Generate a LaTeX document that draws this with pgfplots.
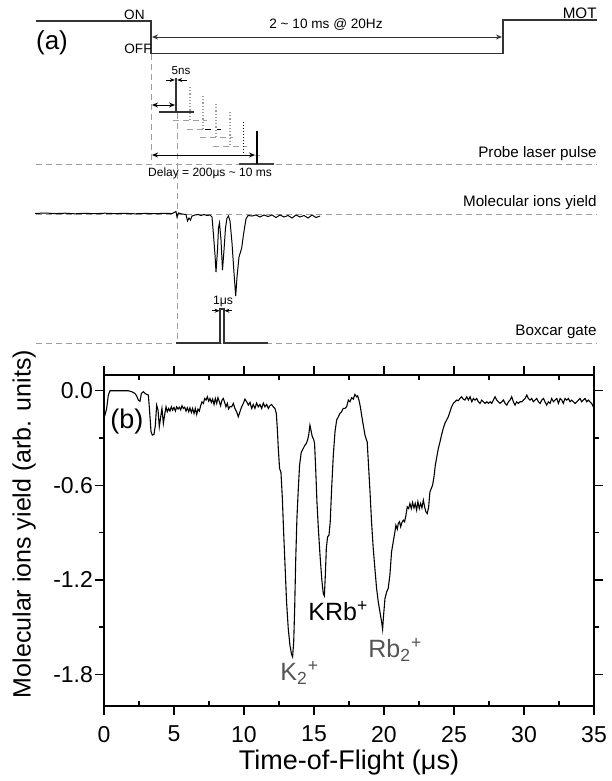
\documentclass[border=0pt]{standalone}
\usepackage{pgfplots}
\pgfplotsset{compat=1.18}
\usepackage{fontspec}
\setmainfont{Liberation Sans}
\usetikzlibrary{arrows.meta}
\definecolor{lg}{gray}{0.62}
\definecolor{dg}{gray}{0.2}
\definecolor{lab}{gray}{0.33}
\begin{document}
\begin{tikzpicture}
\useasboundingbox (0,0) rectangle (305.5pt,-390.5pt);
% ---------------- (a) timing scheme, drawn in pixel units ----------------
\begin{axis}[at={(0pt,0pt)}, anchor=north west, scale only axis,
  width=305.5pt, height=390.5pt, xmin=0, xmax=611, ymin=0, ymax=781,
  y dir=reverse, hide axis, clip=false]
% MOT timing
\addplot[dg, line width=0.6pt] coordinates {(36,21) (151,21) (151,53.5) (503,53.5) (503,20) (597,20)};
\draw[dg, line width=0.5pt, {Stealth[length=3pt,width=2.5pt]}-{Stealth[length=3pt,width=2.5pt]}] (152,37) -- (502,37);
\node[font=\fontsize{6.8pt}{8pt}\selectfont, inner sep=0] at (326,25) {2 \textasciitilde\ 10 ms @ 20Hz};
\node[font=\fontsize{6.8pt}{8pt}\selectfont, inner sep=0, anchor=east] at (145,15) {ON};
\node[font=\fontsize{6.8pt}{8pt}\selectfont, inner sep=0, anchor=east] at (152,49) {OFF};
\node[font=\fontsize{7.6pt}{9pt}\selectfont, inner sep=0, anchor=east] at (597,13) {MOT};
\node[font=\fontsize{13pt}{15pt}\selectfont, inner sep=0] at (52,43) {(a)};
% guide lines
\draw[lg, line width=0.35pt, densely dashed] (36,164.3) -- (597,164.3);
\draw[lg, line width=0.35pt, densely dashed] (36,214) -- (597,214);
\draw[lg, line width=0.35pt, densely dashed] (36,343) -- (597,343);
\draw[lg, line width=0.35pt, densely dashed] (151,54) -- (151,164);
\draw[lg, line width=0.35pt, densely dashed] (177,113) -- (177,343);
% probe pulses
\addplot[dg, line width=0.7pt] coordinates {(159,112) (194,112)};
\addplot[dg, line width=0.7pt] coordinates {(176,112) (176,78)};
\draw[line width=0.4pt, -{Stealth[length=2.5pt,width=2pt]}] (166,80) -- (174.8,80);
\draw[line width=0.4pt, -{Stealth[length=2.5pt,width=2pt]}] (187,80) -- (177.2,80);
\node[font=\fontsize{5.8pt}{7pt}\selectfont, inner sep=0] at (181,71) {5ns};
\draw[line width=0.5pt, {Stealth[length=3pt,width=2.5pt]}-{Stealth[length=3pt,width=2.5pt]}] (152,105) -- (175,105);
\addplot[lg, line width=0.6pt, densely dotted] coordinates {(190,87) (190,120)};
\addplot[lg, line width=0.4pt, densely dashed] coordinates {(173,120) (207,120)};
\addplot[lg, line width=0.6pt, densely dotted] coordinates {(203,96) (203,129)};
\addplot[lg, line width=0.4pt, densely dashed] coordinates {(187,129) (205,129)};
\addplot[black, line width=0.5pt, dashed] coordinates {(205,129) (221,129)};
\addplot[lg, line width=0.6pt, densely dotted] coordinates {(216,104) (216,137)};
\addplot[lg, line width=0.4pt, densely dashed] coordinates {(200,137) (233,137)};
\addplot[lg, line width=0.6pt, densely dotted] coordinates {(230,112) (230,146)};
\addplot[lg, line width=0.4pt, densely dashed] coordinates {(213,146) (247,146)};
\addplot[black, line width=0.5pt, densely dotted] coordinates {(243,122) (243,155)};
\addplot[lg, line width=0.4pt, densely dashed] coordinates {(245,155) (260,155)};
\addplot[black!75, line width=1.2pt] coordinates {(239,164) (274,164)};
\addplot[black, line width=1.2pt] coordinates {(257,131) (257,164)};
\draw[line width=0.5pt, {Stealth[length=3pt,width=2.5pt]}-{Stealth[length=3pt,width=2.5pt]}] (152,155) -- (255,155);
\node[font=\fontsize{6pt}{7pt}\selectfont, inner sep=0] at (210,173) {Delay = 200μs \textasciitilde\ 10 ms};
\node[font=\fontsize{7.6pt}{9pt}\selectfont, inner sep=0, anchor=east] at (597,154) {Probe laser pulse};
% molecular ions yield trace
\addplot[black, line width=0.5pt] coordinates {
(35,213.5)(45,213)(55,213.6)(65,213.2)(75,213.8)(85,213.3)(95,213.7)(105,213.2)(115,213.6)(125,213.3)
(135,213.8)(145,213.4)(155,213.7)(165,213.3)(172,213.6)(176,211.5)(177,217)(178.5,213)(182,214)(186,214.5)
(187.5,221)(189,218)(190.5,220)(192,216)(195,215)(198,214.5)(201,215.5)(204,214.5)(207,215.5)(210,215)
(212,217)(213.5,235)(215,255)(216,272)(217.5,250)(218.5,228)(219.5,223)(221,240)(222.5,270)(224,250)
(225.5,228)(227,218)(228.5,216)(230,221)(232,243)(234,273)(235.7,296)(237,277)(239,257)(240.5,252)
(241.7,248)(243,238)(244.5,228)(246,219)(248,215.5)(252,216)(256,215)(260,217)(264,215)(268,216.5)
(272,215)(276,217.5)(280,215)(284,217)(288,215.5)(292,218)(296,215)(300,217)(304,215.5)(308,218)
(312,215)(316,217.5)(320,216)};
\node[font=\fontsize{7.6pt}{9pt}\selectfont, inner sep=0, anchor=east] at (597,203) {Molecular ions yield};
% boxcar gate
\addplot[dg, line width=0.6pt] coordinates {(176,343) (220,343) (220,309) (224,309) (224,343) (268,343)};
\draw[line width=0.4pt, -{Stealth[length=2.5pt,width=2pt]}] (212,310.7) -- (219.6,310.7);
\draw[line width=0.4pt, -{Stealth[length=2.5pt,width=2pt]}] (232,310.7) -- (224.4,310.7);
\node[font=\fontsize{6.1pt}{7pt}\selectfont, inner sep=0] at (223,301) {1μs};
\node[font=\fontsize{7.6pt}{9pt}\selectfont, inner sep=0, anchor=east] at (597,332) {Boxcar gate};
\end{axis}
% ---------------- (b) time-of-flight spectrum ----------------
\begin{axis}[at={(52pt,-187.5pt)}, anchor=north west, scale only axis,
  width=245pt, height=165.5pt,
  xmin=0, xmax=35, ymin=-2.0, ymax=0.1,
  axis line style={line width=0.85pt},
  every tick/.style={black, line width=0.7pt},
  tick align=outside, major tick length=4.5pt, minor tick length=2.3pt,
  xtick={0,5,10,15,20,25,30,35},
  xticklabels={0,5,10,15,20,25,30,35},
  extra x ticks={2.5,7.5,12.5,17.5,22.5,27.5,32.5},
  extra x tick labels={},
  extra x tick style={tick align=inside, major tick length=2.3pt},
  ytick={-1.8,-1.2,-0.6,0},
  yticklabels={-1.8,-1.2,-0.6,0.0},
  minor y tick num=1,
  tick label style={font=\fontsize{11.5pt}{13pt}\selectfont},
  xticklabel style={yshift=-2pt},
  yticklabel style={xshift=2.5pt},
  xlabel={Time-of-Flight (μs)},
  ylabel={Molecular ions yield (arb. units)},
  xlabel style={font=\fontsize{13.5pt}{16pt}\selectfont, at={(axis description cs:0.5,-0.17)}, anchor=center},
  ylabel style={font=\fontsize{12.5pt}{15pt}\selectfont, at={(axis description cs:-0.163,0.55)}, anchor=center},
  clip=false]
\addplot[black, line width=0.55pt] coordinates {
(0.0,-0.17)(0.07,-0.154)(0.19,-0.112)(0.31,-0.027)(0.43,0.0)(0.79,0.0)(1.26,0.0)(1.74,0.0)(1.98,-0.006)(2.21,-0.017)
(2.33,-0.032)(2.45,-0.059)(2.57,-0.066)(2.67,-0.017)(2.81,-0.006)(2.93,-0.017)(3.05,-0.023)(3.17,-0.027)(3.26,-0.133)(3.36,-0.26)
(3.45,-0.281)(3.57,-0.277)(3.67,-0.218)(3.76,-0.091)(3.86,-0.123)(3.95,-0.228)(4.05,-0.165)(4.14,-0.112)(4.24,-0.207)(4.33,-0.154)
(4.43,-0.102)(4.52,-0.133)(4.62,-0.112)(4.71,-0.129)(4.81,-0.102)(4.90,-0.123)(5.0,-0.106)(5.10,-0.129)(5.19,-0.102)(5.29,-0.116)
(5.38,-0.104)(5.48,-0.121)(5.57,-0.095)(5.67,-0.112)(5.76,-0.104)(5.86,-0.129)(5.95,-0.108)(6.05,-0.133)(6.14,-0.108)(6.24,-0.138)
(6.33,-0.112)(6.43,-0.144)(6.52,-0.112)(6.62,-0.150)(6.71,-0.116)(6.81,-0.129)(6.90,-0.095)(7.0,-0.070)(7.10,-0.080)(7.19,-0.049)
(7.29,-0.059)(7.38,-0.038)(7.48,-0.066)(7.57,-0.049)(7.67,-0.074)(7.76,-0.053)(7.86,-0.087)(7.95,-0.049)(8.05,-0.080)(8.14,-0.044)
(8.24,-0.070)(8.33,-0.095)(8.43,-0.059)(8.52,-0.049)(8.62,-0.074)(8.71,-0.102)(8.81,-0.080)(8.90,-0.115)(9.0,-0.100)(9.12,-0.102)
(9.24,-0.08)(9.35,-0.112)(9.47,-0.133)(9.59,-0.165)(9.71,-0.133)(9.83,-0.102)(9.95,-0.08)(10.07,-0.053)(10.19,-0.07)(10.31,-0.091)
(10.43,-0.074)(10.55,-0.112)(10.66,-0.087)(10.78,-0.112)(10.9,-0.078)(11.02,-0.102)(11.14,-0.087)(11.26,-0.112)(11.38,-0.078)(11.5,-0.102)
(11.62,-0.087)(11.74,-0.112)(11.85,-0.095)(11.97,-0.087)(12.09,-0.102)(12.21,-0.112)(12.31,-0.144)(12.38,-0.24)(12.45,-0.366)(12.54,-0.493)
(12.64,-0.518)(12.74,-0.683)(12.83,-0.895)(12.93,-1.106)(13.04,-1.339)(13.16,-1.508)(13.28,-1.614)(13.40,-1.673)(13.47,-1.688)(13.55,-1.593)
(13.62,-1.381)(13.69,-1.085)(13.78,-0.81)(13.88,-0.62)(13.97,-0.472)(14.09,-0.391)(14.21,-0.37)(14.33,-0.349)(14.45,-0.334)(14.54,-0.313)
(14.62,-0.281)(14.71,-0.218)(14.78,-0.25)(14.88,-0.292)(14.97,-0.307)(15.04,-0.334)(15.12,-0.493)(15.21,-0.704)(15.31,-0.873)(15.43,-1.043)
(15.55,-1.191)(15.66,-1.286)(15.74,-1.301)(15.81,-1.17)(15.88,-1.0)(15.97,-0.927)(16.07,-0.916)(16.16,-0.831)(16.26,-0.62)(16.38,-0.408)
(16.5,-0.26)(16.62,-0.186)(16.74,-0.165)(16.85,-0.144)(16.97,-0.133)(17.09,-0.112)(17.21,-0.112)(17.33,-0.102)(17.45,-0.059)(17.57,-0.07)
(17.69,-0.044)(17.81,-0.053)(17.92,-0.023)(18.04,-0.038)(18.11,-0.032)(18.21,-0.059)(18.31,-0.102)(18.4,-0.154)(18.52,-0.218)(18.64,-0.281)
(18.73,-0.307)(18.8,-0.324)(18.88,-0.45)(19.0,-0.641)(19.11,-0.831)(19.23,-1.0)(19.35,-1.128)(19.47,-1.254)(19.59,-1.339)(19.71,-1.403)
(19.83,-1.466)(19.9,-1.513)(19.97,-1.424)(20.07,-1.318)(20.19,-1.276)(20.3,-1.254)(20.42,-1.17)(20.54,-1.022)(20.66,-0.958)(20.78,-0.895)
(20.85,-0.853)(20.95,-0.878)(21.02,-0.842)(21.11,-0.831)(21.19,-0.863)(21.28,-0.836)(21.38,-0.821)(21.47,-0.831)(21.57,-0.789)(21.66,-0.736)
(21.76,-0.747)(21.85,-0.715)(21.95,-0.747)(22.04,-0.709)(22.14,-0.743)(22.23,-0.715)(22.33,-0.757)(22.42,-0.704)(22.52,-0.747)(22.61,-0.715)
(22.71,-0.743)(22.81,-0.694)(22.9,-0.736)(22.99,-0.768)(23.09,-0.779)(23.19,-0.736)(23.28,-0.641)(23.38,-0.62)(23.47,-0.599)(23.57,-0.546)
(23.66,-0.476)(23.76,-0.425)(23.88,-0.366)(24.0,-0.324)(24.11,-0.281)(24.23,-0.239)(24.35,-0.207)(24.47,-0.186)(24.59,-0.165)(24.71,-0.133)
(24.83,-0.102)(24.95,-0.08)(25.07,-0.07)(25.19,-0.059)(25.31,-0.063)(25.42,-0.049)(25.54,-0.038)(25.66,-0.053)(25.78,-0.059)(25.91,-0.038)
(26.03,-0.059)(26.15,-0.038)(26.27,-0.07)(26.39,-0.049)(26.5,-0.059)(26.62,-0.049)(26.74,-0.07)(26.86,-0.08)(26.98,-0.059)(27.1,-0.07)
(27.22,-0.08)(27.34,-0.07)(27.46,-0.08)(27.58,-0.07)(27.7,-0.08)(27.81,-0.059)(27.93,-0.038)(28.05,-0.059)(28.17,-0.07)(28.29,-0.08)
(28.41,-0.07)(28.53,-0.059)(28.65,-0.08)(28.77,-0.091)(28.89,-0.07)(29.0,-0.059)(29.12,-0.038)(29.24,-0.07)(29.36,-0.091)(29.48,-0.07)
(29.6,-0.08)(29.72,-0.07)(29.84,-0.07)(29.96,-0.059)(30.08,-0.049)(30.2,-0.027)(30.31,-0.049)(30.43,-0.059)(30.55,-0.049)(30.67,-0.07)
(30.79,-0.059)(30.91,-0.049)(31.03,-0.07)(31.15,-0.08)(31.27,-0.059)(31.39,-0.049)(31.5,-0.07)(31.62,-0.091)(31.74,-0.07)(31.86,-0.08)
(31.98,-0.049)(32.1,-0.07)(32.22,-0.059)(32.34,-0.049)(32.46,-0.08)(32.58,-0.049)(32.7,-0.059)(32.81,-0.08)(32.93,-0.049)(33.05,-0.059)
(33.17,-0.049)(33.29,-0.07)(33.41,-0.059)(33.53,-0.07)(33.65,-0.08)(33.77,-0.07)(33.89,-0.059)(34.0,-0.049)(34.12,-0.07)(34.24,-0.059)
(34.36,-0.049)(34.48,-0.07)(34.6,-0.059)(34.71,-0.07)(34.83,-0.08)(34.95,-0.102)(35.0,-0.07)};
\node[font=\fontsize{13.5pt}{16pt}\selectfont, inner sep=0, anchor=west] at (axis cs:0.43,-0.193) {(b)};
\node[font=\fontsize{12.5pt}{15pt}\selectfont, text=lab, inner sep=0, anchor=base west] at (axis cs:12.57,-1.836) {K\textsubscript{2}\textsuperscript{+}};
\node[font=\fontsize{12.5pt}{15pt}\selectfont, inner sep=0, anchor=base west] at (axis cs:14.57,-1.456) {KRb\textsuperscript{+}};
\node[font=\fontsize{12.5pt}{15pt}\selectfont, text=lab, inner sep=0, anchor=base west] at (axis cs:18.86,-1.69) {Rb\textsubscript{2}\textsuperscript{+}};
\end{axis}
\end{tikzpicture}
\end{document}
